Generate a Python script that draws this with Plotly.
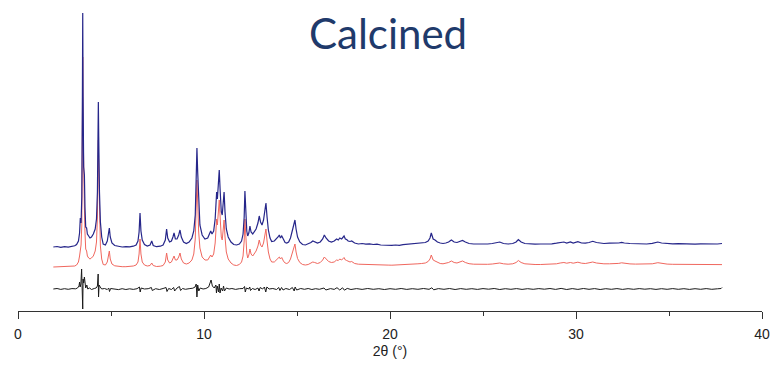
import plotly.graph_objects as go

# Powder XRD of the calcined sample: observed, calculated and difference profiles.
# Intensities are in arbitrary units; each profile is stacked by its own offset.

two_theta = [
    1.90, 2.10, 2.30, 2.50, 2.70, 2.90, 3.05, 3.15, 3.25, 3.31, 3.35, 3.39, 3.43, 3.46, 3.48, 3.50,
    3.53, 3.57, 3.60, 3.64, 3.69, 3.73, 3.80, 3.87, 3.95, 4.05, 4.15, 4.22, 4.27, 4.30, 4.32, 4.34,
    4.38, 4.43, 4.50, 4.58, 4.70, 4.80, 4.86, 4.91, 4.96, 5.05, 5.20, 5.40, 5.60, 5.80, 6.00, 6.20,
    6.35, 6.45, 6.51, 6.56, 6.61, 6.68, 6.80, 6.95, 7.10, 7.19, 7.27, 7.45, 7.65, 7.80, 7.92, 7.99,
    8.05, 8.15, 8.25, 8.33, 8.39, 8.46, 8.55, 8.64, 8.71, 8.78, 8.90, 9.05, 9.20, 9.35, 9.45, 9.53,
    9.58, 9.62, 9.66, 9.71, 9.78, 9.90, 10.05, 10.20, 10.30, 10.36, 10.43, 10.52, 10.60, 10.66, 10.68, 10.72,
    10.76, 10.82, 10.87, 10.93, 10.98, 11.03, 11.08, 11.13, 11.20, 11.30, 11.45, 11.60, 11.75, 11.90, 12.02, 12.10,
    12.16, 12.20, 12.24, 12.30, 12.35, 12.41, 12.47, 12.53, 12.62, 12.70, 12.80, 12.90, 12.97, 13.04, 13.12, 13.20,
    13.27, 13.33, 13.39, 13.46, 13.55, 13.64, 13.78, 13.90, 13.98, 14.05, 14.11, 14.18, 14.27, 14.36, 14.45, 14.55,
    14.65, 14.72, 14.77, 14.83, 14.89, 14.95, 15.03, 15.15, 15.30, 15.45, 15.60, 15.75, 15.85, 15.95, 16.10, 16.25,
    16.38, 16.47, 16.56, 16.70, 16.85, 17.00, 17.13, 17.22, 17.30, 17.40, 17.53, 17.60, 17.67, 17.75, 17.85, 17.94,
    18.10, 18.30, 18.50, 18.70, 18.90, 19.10, 19.30, 19.50, 19.70, 19.90, 20.10, 20.30, 20.50, 20.70, 20.90, 21.10,
    21.30, 21.50, 21.70, 21.90, 22.05, 22.15, 22.22, 22.26, 22.32, 22.42, 22.55, 22.70, 22.85, 23.00, 23.15, 23.30,
    23.45, 23.60, 23.75, 23.90, 24.05, 24.25, 24.50, 24.75, 25.00, 25.25, 25.50, 25.70, 25.90, 26.10, 26.35, 26.60,
    26.78, 26.90, 27.05, 27.25, 27.50, 27.80, 28.10, 28.40, 28.70, 28.95, 29.15, 29.35, 29.50, 29.70, 29.85, 30.10,
    30.30, 30.50, 30.70, 30.90, 31.10, 31.30, 31.50, 31.80, 32.10, 32.30, 32.45, 32.60, 32.90, 33.20, 33.50, 33.80,
    34.10, 34.40, 34.60, 34.90, 35.20, 35.50, 35.80, 36.10, 36.40, 36.70, 37.00, 37.30, 37.60, 37.85,
]

intensity_obs = [
    20.0, 20.5, 19.6, 20.3, 19.8, 20.6, 21.2, 22.5, 26.0, 34.0, 49.0, 44.0, 70.0, 160.0, 254.0, 170.0,
    100.0, 92.0, 60.0, 40.0, 39.0, 33.0, 31.0, 29.0, 30.0, 33.0, 38.0, 48.0, 75.0, 130.0, 165.0, 130.0,
    75.0, 45.0, 30.0, 23.0, 22.0, 26.0, 33.0, 39.0, 30.0, 24.0, 21.5, 20.6, 20.0, 20.4, 20.1, 20.8,
    22.0, 26.0, 35.0, 54.0, 36.0, 27.0, 22.5, 21.0, 22.0, 26.0, 21.5, 20.3, 20.8, 22.0, 27.0, 38.0,
    29.0, 25.0, 26.0, 30.0, 34.0, 28.0, 28.0, 32.0, 37.0, 30.0, 25.0, 23.5, 25.0, 29.0, 36.0, 52.0,
    80.0, 119.0, 95.0, 62.0, 42.0, 32.0, 28.0, 29.0, 33.0, 36.0, 33.0, 36.0, 48.0, 70.0, 75.0, 68.0,
    80.0, 97.0, 76.0, 55.0, 52.0, 62.0, 75.0, 55.0, 38.0, 30.0, 25.0, 22.5, 22.0, 23.0, 26.0, 33.0,
    50.0, 76.0, 55.0, 36.0, 31.0, 34.0, 41.0, 35.0, 33.0, 35.0, 38.0, 44.0, 51.0, 45.0, 42.0, 47.0,
    55.0, 64.0, 50.0, 37.0, 29.0, 25.5, 26.0, 28.0, 30.0, 32.0, 29.0, 31.0, 27.0, 24.5, 24.0, 25.0,
    29.0, 34.0, 38.0, 41.0, 47.0, 38.0, 30.0, 25.0, 22.5, 22.0, 23.0, 24.5, 26.0, 25.0, 24.0, 25.0,
    28.0, 32.0, 29.0, 26.0, 25.0, 26.0, 28.0, 27.0, 29.0, 28.0, 31.0, 28.0, 27.5, 26.0, 25.5, 26.0,
    24.0, 23.0, 23.5, 22.8, 23.2, 22.5, 22.8, 22.0, 21.8, 22.2, 21.6, 22.0, 21.7, 22.3, 22.6, 23.0,
    23.2, 23.8, 23.5, 24.5, 26.0, 29.0, 34.0, 31.0, 28.0, 27.0, 25.0, 24.0, 23.5, 24.0, 25.0, 27.0,
    25.0, 24.5, 25.5, 26.5, 25.0, 23.5, 23.0, 22.8, 23.2, 23.0, 23.5, 24.0, 25.0, 23.5, 23.0, 23.5,
    25.0, 27.5, 25.0, 23.5, 23.0, 22.8, 23.0, 22.9, 23.2, 23.8, 24.5, 25.0, 24.0, 25.0, 24.0, 25.3,
    24.0, 23.8, 24.5, 25.7, 24.5, 24.0, 23.5, 23.8, 23.5, 24.0, 24.7, 24.0, 23.5, 23.2, 23.4, 23.0,
    23.6, 25.0, 24.0, 23.3, 23.1, 23.4, 23.0, 23.3, 22.8, 23.2, 22.9, 23.3, 23.0, 23.5,
]

intensity_calc = [
    20.0, 20.2, 20.1, 20.2, 20.3, 20.5, 21.0, 22.0, 25.0, 31.0, 40.0, 42.0, 62.0, 150.0, 230.0, 160.0,
    92.0, 80.0, 55.0, 38.0, 36.0, 31.0, 29.0, 28.0, 29.0, 31.0, 36.0, 45.0, 70.0, 120.0, 147.0, 118.0,
    68.0, 41.0, 28.0, 22.5, 22.0, 25.0, 31.0, 36.0, 28.0, 23.0, 21.2, 20.5, 20.3, 20.3, 20.5, 21.0,
    22.0, 25.0, 33.0, 48.0, 33.0, 25.0, 22.0, 21.0, 21.5, 24.0, 21.5, 20.5, 20.8, 21.5, 25.0, 34.0,
    27.0, 24.0, 25.0, 28.0, 31.0, 27.0, 27.0, 30.0, 34.0, 28.0, 24.0, 23.0, 24.0, 27.0, 33.0, 48.0,
    74.0, 107.0, 86.0, 56.0, 39.0, 30.0, 27.0, 27.0, 30.0, 32.0, 30.0, 33.0, 44.0, 63.0, 68.0, 62.0,
    72.0, 87.0, 69.0, 50.0, 47.0, 56.0, 67.0, 50.0, 35.0, 28.0, 24.0, 22.0, 21.5, 22.5, 25.0, 31.0,
    46.0, 68.0, 50.0, 34.0, 29.0, 32.0, 38.0, 33.0, 31.0, 33.0, 36.0, 41.0, 47.0, 42.0, 40.0, 44.0,
    51.0, 58.0, 46.0, 35.0, 28.0, 25.0, 25.0, 27.0, 28.5, 30.0, 28.0, 29.5, 26.0, 24.0, 23.5, 24.5,
    28.0, 32.0, 35.0, 38.0, 43.0, 35.0, 28.5, 24.5, 22.5, 22.0, 22.5, 24.0, 25.0, 24.5, 23.5, 24.5,
    27.0, 30.0, 28.0, 25.5, 24.5, 25.0, 27.0, 26.5, 28.0, 27.0, 29.5, 27.0, 26.5, 25.5, 25.0, 25.5,
    23.5, 22.8, 22.6, 22.4, 22.3, 22.2, 22.1, 22.0, 21.9, 21.9, 21.8, 21.9, 22.0, 22.2, 22.4, 22.6,
    22.9, 23.2, 23.5, 24.0, 25.5, 28.0, 32.0, 30.0, 27.0, 26.0, 24.5, 23.5, 23.2, 23.5, 24.5, 26.0,
    24.5, 24.0, 25.0, 26.0, 24.5, 23.3, 22.8, 22.6, 22.6, 22.7, 23.0, 23.5, 24.0, 23.2, 22.8, 23.2,
    24.5, 26.5, 24.5, 23.2, 22.7, 22.5, 22.5, 22.5, 22.7, 23.2, 24.0, 24.5, 23.8, 24.5, 23.8, 24.8,
    23.8, 23.5, 24.2, 25.0, 24.0, 23.5, 23.2, 23.2, 23.2, 23.6, 24.2, 23.6, 23.1, 22.9, 22.8, 22.8,
    23.2, 24.3, 23.5, 22.9, 22.7, 22.6, 22.6, 22.5, 22.5, 22.5, 22.4, 22.4, 22.4, 22.4,
]

two_theta_diff = [
    1.90, 2.10, 2.30, 2.50, 2.70, 2.90, 3.10, 3.20, 3.28, 3.31, 3.34, 3.38, 3.42, 3.45, 3.48, 3.50,
    3.53, 3.57, 3.60, 3.64, 3.70, 3.75, 3.85, 3.95, 4.10, 4.20, 4.27, 4.31, 4.33, 4.36, 4.42, 4.50,
    4.65, 4.80, 4.88, 4.92, 4.98, 5.20, 5.40, 5.60, 5.80, 6.00, 6.20, 6.40, 6.53, 6.57, 6.62, 6.80,
    7.00, 7.17, 7.22, 7.40, 7.60, 7.80, 7.96, 8.01, 8.10, 8.25, 8.37, 8.42, 8.55, 8.68, 8.74, 8.85,
    9.00, 9.20, 9.40, 9.52, 9.58, 9.62, 9.66, 9.72, 9.80, 9.95, 10.10, 10.25, 10.33, 10.38, 10.45, 10.55,
    10.64, 10.67, 10.71, 10.78, 10.82, 10.86, 10.92, 11.00, 11.05, 11.10, 11.20, 11.35, 11.50, 11.70, 11.90, 12.10,
    12.18, 12.22, 12.28, 12.40, 12.46, 12.50, 12.60, 12.75, 12.90, 12.96, 13.02, 13.15, 13.25, 13.32, 13.38, 13.50,
    13.70, 13.90, 14.02, 14.08, 14.17, 14.25, 14.40, 14.60, 14.75, 14.85, 14.90, 14.98, 15.20, 15.40, 15.60, 15.80,
    16.00, 16.20, 16.45, 16.55, 16.80, 17.00, 17.15, 17.30, 17.45, 17.55, 17.70, 17.90, 18.20, 18.50, 18.80, 19.10,
    19.40, 19.70, 20.00, 20.30, 20.60, 20.90, 21.20, 21.50, 21.80, 22.10, 22.25, 22.35, 22.60, 22.90, 23.20, 23.50,
    23.80, 24.10, 24.40, 24.70, 25.00, 25.30, 25.60, 25.90, 26.20, 26.50, 26.80, 27.10, 27.40, 27.70, 28.00, 28.30,
    28.60, 28.90, 29.20, 29.50, 29.80, 30.10, 30.40, 30.70, 31.00, 31.30, 31.60, 31.90, 32.20, 32.50, 32.80, 33.10,
    33.40, 33.70, 34.00, 34.30, 34.60, 34.90, 35.20, 35.50, 35.80, 36.10, 36.40, 36.70, 37.00, 37.30, 37.60, 37.80,
    37.85,
]

intensity_diff = [
    0.0, 0.5, -0.4, 0.3, -0.3, 0.4, 0.2, 1.0, 3.0, 7.0, 2.0, 5.0, 20.0, 8.0, -20.0, 10.0,
    6.0, 12.0, 3.0, 1.0, 4.0, 0.0, 1.0, -0.5, 0.5, 1.0, 3.0, 15.0, -8.0, 4.0, 2.0, 0.0,
    0.5, -0.5, 1.0, -2.5, 0.5, 0.0, -0.6, 0.3, -0.5, 0.2, -0.4, 0.3, 2.0, -3.0, 1.0, 0.0,
    0.3, 1.5, -1.5, 0.3, -0.5, 0.5, 1.5, -2.5, 0.5, -0.5, 1.5, -2.0, 1.0, 2.5, -1.5, 0.5,
    -0.3, 0.3, 0.8, 2.0, 5.0, -8.0, 4.0, -2.0, 1.0, 0.0, 0.5, 2.0, 6.0, 9.0, 3.0, 1.0,
    4.0, -4.0, 3.0, -3.0, 5.0, -4.0, 1.0, -2.0, 3.0, -2.0, 1.0, 0.0, 0.5, -0.4, 0.3, 0.5,
    2.5, -3.0, 1.0, 0.0, 2.0, -1.5, 0.5, -0.5, 1.0, -2.0, 1.5, 0.0, 2.0, -3.0, 2.0, 0.0,
    0.5, -0.5, 1.5, -1.5, 1.5, -1.0, 0.5, -0.5, 1.5, -2.0, 2.0, -1.0, 0.5, -0.3, 0.5, -0.5,
    0.3, -0.3, 1.0, -1.0, 0.4, -0.4, 1.3, -1.0, 1.2, -1.2, 0.6, -0.5, 0.4, -0.4, 0.5, -0.3,
    0.3, -0.5, 0.3, -0.3, 0.5, -0.4, 0.3, -0.3, 0.5, -0.3, 1.2, -0.8, 0.4, -0.3, 0.5, -0.5,
    0.4, -0.3, 0.3, -0.4, 0.4, -0.2, 0.5, -0.5, 0.3, -0.3, 0.4, -0.4, 0.3, -0.3, 0.4, -0.2,
    0.5, -0.4, 0.6, -0.5, 0.4, -0.4, 0.5, -0.3, 0.4, -0.5, 0.3, -0.3, 0.4, -0.4, 0.3, -0.3,
    0.4, -0.2, 0.3, -0.4, 0.3, -0.3, 0.4, -0.3, 0.3, -0.4, 0.3, -0.3, 0.4, -0.3, 0.2, 0.5,
    1.5,
]

# vertical stacking offsets for the three profiles
OFFSET_OBS = 44
OFFSET_CALC = 24
OFFSET_DIFF = 22

x_ticks = [0, 10, 20, 30, 40]

AXIS_FONT = "Liberation Sans Narrow, Liberation Sans, Arial"

fig = go.Figure()

fig.add_trace(go.Scatter(
    x=two_theta, y=[v + OFFSET_CALC for v in intensity_calc],
    mode="lines", line=dict(color="#f0675e", width=1), name="Calculated",
))
fig.add_trace(go.Scatter(
    x=two_theta_diff, y=[v + OFFSET_DIFF for v in intensity_diff],
    mode="lines", line=dict(color="#1a1a1a", width=1), name="Difference",
))
fig.add_trace(go.Scatter(
    x=two_theta, y=[v + OFFSET_OBS for v in intensity_obs],
    mode="lines", line=dict(color="#26268a", width=1.2), name="Observed",
))

fig.update_layout(
    width=773, height=366,
    margin=dict(l=18, r=11, t=11, b=55),
    paper_bgcolor="white", plot_bgcolor="white",
    showlegend=False,
    xaxis=dict(
        range=[0, 40],
        automargin=False,
        tickvals=x_ticks,
        ticktext=[str(t) for t in x_ticks],
        showline=True, linecolor="#333333", linewidth=1,
        ticks="outside", ticklen=7, tickwidth=1, tickcolor="#333333",
        minor=dict(dtick=5, tick0=0, ticks="outside", ticklen=4, tickcolor="#333333"),
        showgrid=False, zeroline=False,
        ticklabelstandoff=3,
        tickfont=dict(family=AXIS_FONT, size=14, color="#222222"),
        title=dict(text="2θ (°)", standoff=5,
                   font=dict(family=AXIS_FONT, size=14, color="#222222")),
    ),
    yaxis=dict(range=[0, 300], visible=False),
    annotations=[dict(
        text="Calcined", xref="paper", yref="paper", x=0.497, y=0.925,
        xanchor="center", yanchor="middle", showarrow=False,
        font=dict(family="Lato, Open Sans, sans-serif", size=42, color="#1f3a6b"),
    )],
)

fig.write_html("out.html")
